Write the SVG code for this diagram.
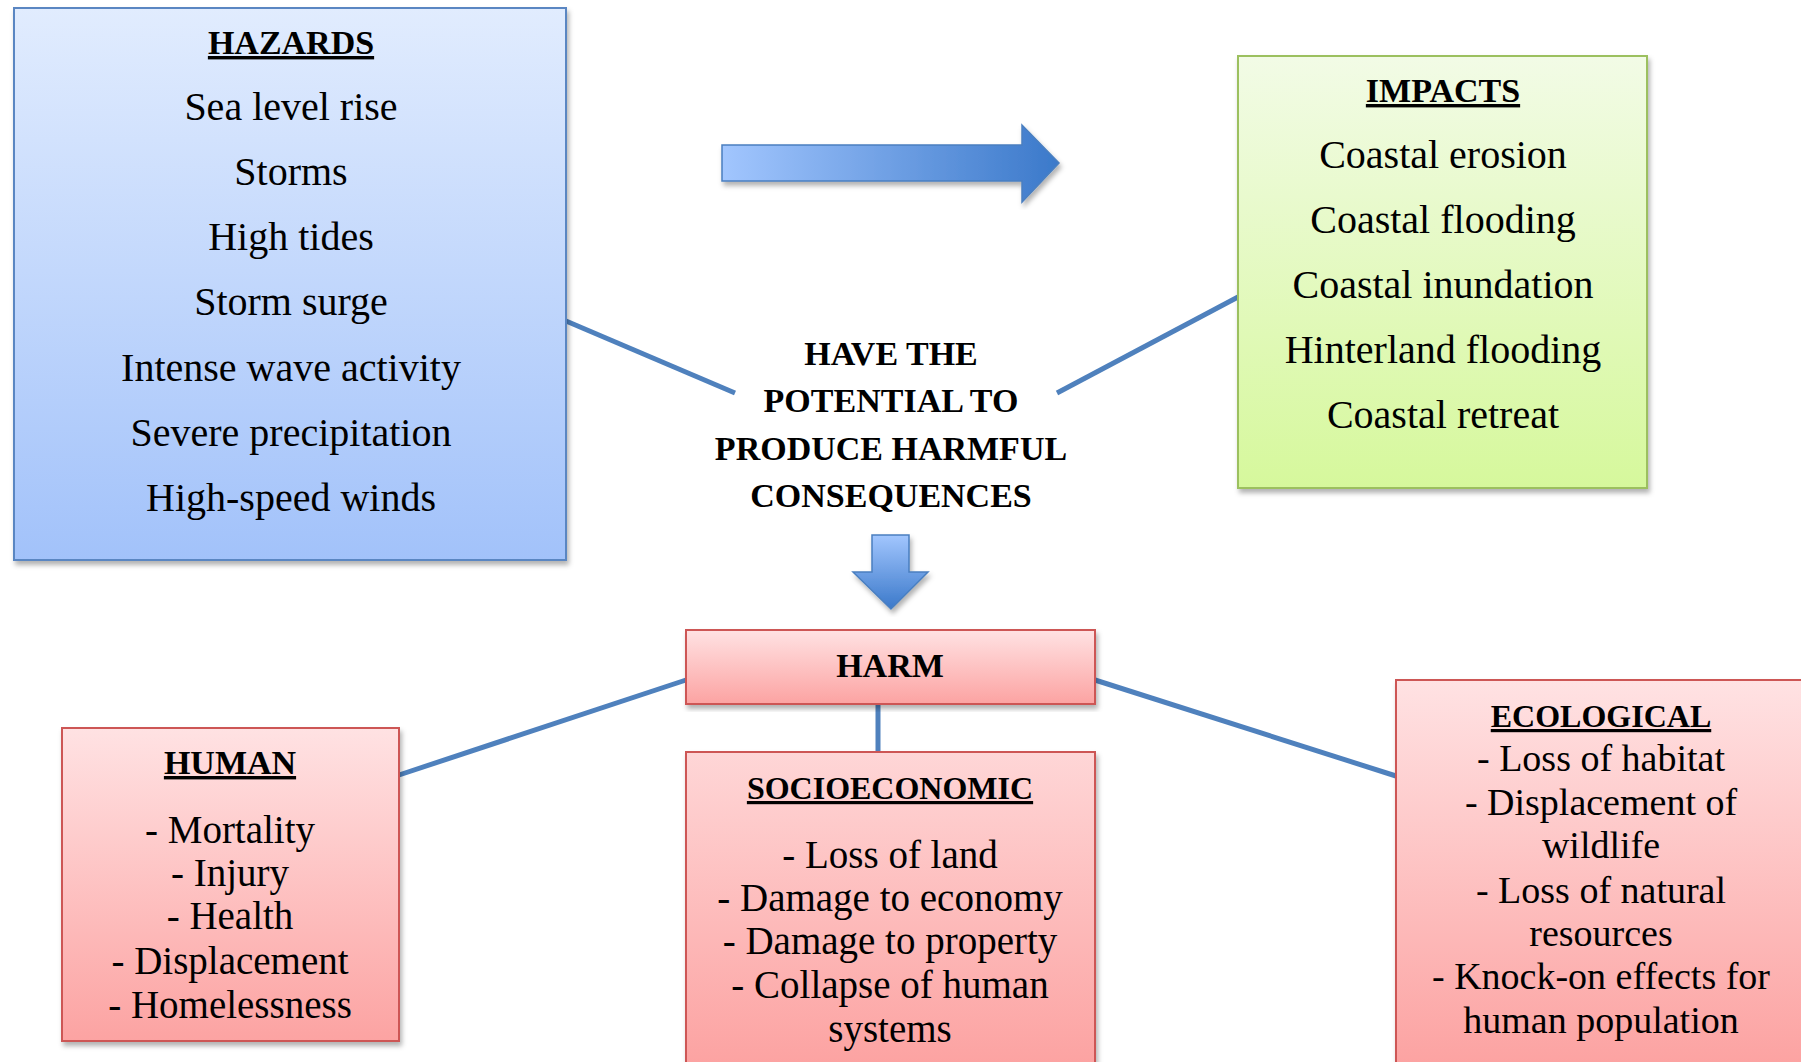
<svg xmlns="http://www.w3.org/2000/svg" width="1801" height="1062" viewBox="0 0 1801 1062">
<defs>
  <linearGradient id="gBlue" x1="0" y1="0" x2="0" y2="1">
    <stop offset="0" stop-color="#e1ecfe"/>
    <stop offset="1" stop-color="#a2c2fa"/>
  </linearGradient>
  <linearGradient id="gGreen" x1="0" y1="0" x2="0" y2="1">
    <stop offset="0" stop-color="#f2fbe6"/>
    <stop offset="1" stop-color="#d6f89c"/>
  </linearGradient>
  <linearGradient id="gRed" x1="0" y1="0" x2="0" y2="1">
    <stop offset="0" stop-color="#ffe2e3"/>
    <stop offset="1" stop-color="#fca3a2"/>
  </linearGradient>
  <linearGradient id="gRedTall" gradientUnits="userSpaceOnUse" x1="0" y1="680" x2="0" y2="1062">
    <stop offset="0" stop-color="#ffe2e3"/>
    <stop offset="1" stop-color="#fca3a2"/>
  </linearGradient>
  <linearGradient id="gArrowH" x1="0" y1="0" x2="1" y2="0">
    <stop offset="0" stop-color="#a2c6fe"/>
    <stop offset="1" stop-color="#3b79ca"/>
  </linearGradient>
  <linearGradient id="gArrowV" x1="0" y1="0" x2="0" y2="1">
    <stop offset="0" stop-color="#a2c6fe"/>
    <stop offset="1" stop-color="#3b79ca"/>
  </linearGradient>
  <filter id="shadow" x="-5%" y="-5%" width="115%" height="115%">
    <feDropShadow dx="2" dy="4" stdDeviation="2.5" flood-color="#000" flood-opacity="0.3"/>
  </filter>
</defs>
<style>
  .box-blue { fill: url(#gBlue); stroke: #5a86c2; stroke-width: 2; }
  .box-green { fill: url(#gGreen); stroke: #9cc05e; stroke-width: 2; }
  .box-red { fill: url(#gRed); stroke: #cd5754; stroke-width: 2; }
  .box-red-tall { fill: url(#gRedTall); stroke: #cd5754; stroke-width: 2; }
  text { font-family: "Liberation Serif", "Times New Roman", serif; fill: #000; text-anchor: middle; }
  .item { font-size: 38px; }
  .item40 { font-size: 40px; }
  .item39 { font-size: 39px; }
  .title { font-size: 34px; font-weight: bold; text-decoration: underline; }
  .bold { font-size: 34px; font-weight: bold; }
  .conn { stroke: #4f81bd; stroke-width: 5; fill: none; }
</style>
<rect width="1801" height="1062" fill="#ffffff"/>

<g id="connectors">
  <line class="conn" x1="566" y1="321" x2="735" y2="393"/>
  <line class="conn" x1="1057" y1="393" x2="1238" y2="297"/>
  <line class="conn" x1="399" y1="775" x2="686" y2="680"/>
  <line class="conn" x1="1095" y1="680" x2="1396" y2="776"/>
  <line class="conn" x1="878" y1="704" x2="878" y2="752"/>
</g>

<g id="hazards">
  <rect class="box-blue" x="14" y="8" width="552" height="552" filter="url(#shadow)"/>
  <text class="title" x="291" y="54">HAZARDS</text>
  <text class="item40" x="291" y="120">Sea level rise</text>
  <text class="item40" x="291" y="185">Storms</text>
  <text class="item40" x="291" y="250">High tides</text>
  <text class="item40" x="291" y="315">Storm surge</text>
  <text class="item40" x="291" y="381">Intense wave activity</text>
  <text class="item40" x="291" y="446">Severe precipitation</text>
  <text class="item40" x="291" y="511">High-speed winds</text>
</g>

<g id="arrow-right">
  <path d="M722,145 L1022,145 L1022,125 L1059,163 L1022,202 L1022,181 L722,181 Z" fill="url(#gArrowH)" stroke="#4a7fc0" stroke-width="1.5" filter="url(#shadow)"/>
</g>

<g id="impacts">
  <rect class="box-green" x="1238" y="56" width="409" height="432" filter="url(#shadow)"/>
  <text class="title" x="1443" y="102">IMPACTS</text>
  <text class="item40" x="1443" y="168">Coastal erosion</text>
  <text class="item40" x="1443" y="233">Coastal flooding</text>
  <text class="item40" x="1443" y="298">Coastal inundation</text>
  <text class="item40" x="1443" y="363">Hinterland flooding</text>
  <text class="item40" x="1443" y="428">Coastal retreat</text>
</g>

<g id="potential">
  <text class="bold" x="891" y="365">HAVE THE</text>
  <text class="bold" x="891" y="412">POTENTIAL TO</text>
  <text class="bold" x="891" y="460">PRODUCE HARMFUL</text>
  <text class="bold" x="891" y="507">CONSEQUENCES</text>
</g>

<g id="arrow-down">
  <path d="M872,535 L909,535 L909,572 L928,572 L891,609 L853,572 L872,572 Z" fill="url(#gArrowV)" stroke="#4a7fc0" stroke-width="1.5" filter="url(#shadow)"/>
</g>

<g id="harm">
  <rect class="box-red" x="686" y="630" width="409" height="74" filter="url(#shadow)"/>
  <text class="bold" x="890" y="677">HARM</text>
</g>

<g id="human">
  <rect class="box-red" x="62" y="728" width="337" height="313" filter="url(#shadow)"/>
  <text class="title" x="230" y="774">HUMAN</text>
  <text class="item39" x="230" y="843">- Mortality</text>
  <text class="item39" x="230" y="886">- Injury</text>
  <text class="item39" x="230" y="929">- Health</text>
  <text class="item39" x="230" y="974">- Displacement</text>
  <text class="item39" x="230" y="1018">- Homelessness</text>
</g>

<g id="socioeconomic">
  <rect class="box-red-tall" x="686" y="752" width="409" height="330" filter="url(#shadow)"/>
  <text class="title" x="890" y="799" style="font-size:32px">SOCIOECONOMIC</text>
  <text class="item39" x="890" y="868">- Loss of land</text>
  <text class="item39" x="890" y="911">- Damage to economy</text>
  <text class="item39" x="890" y="954">- Damage to property</text>
  <text class="item39" x="890" y="998">- Collapse of human</text>
  <text class="item39" x="890" y="1042">systems</text>
</g>

<g id="ecological">
  <rect class="box-red-tall" x="1396" y="680" width="430" height="400" filter="url(#shadow)"/>
  <text class="title" x="1601" y="727" style="font-size:32px">ECOLOGICAL</text>
  <text class="item" x="1601" y="771">- Loss of habitat</text>
  <text class="item" x="1601" y="815">- Displacement of</text>
  <text class="item" x="1601" y="858">wildlife</text>
  <text class="item" x="1601" y="903">- Loss of natural</text>
  <text class="item" x="1601" y="946">resources</text>
  <text class="item" x="1601" y="989">- Knock-on effects for</text>
  <text class="item" x="1601" y="1033">human population</text>
</g>
</svg>
